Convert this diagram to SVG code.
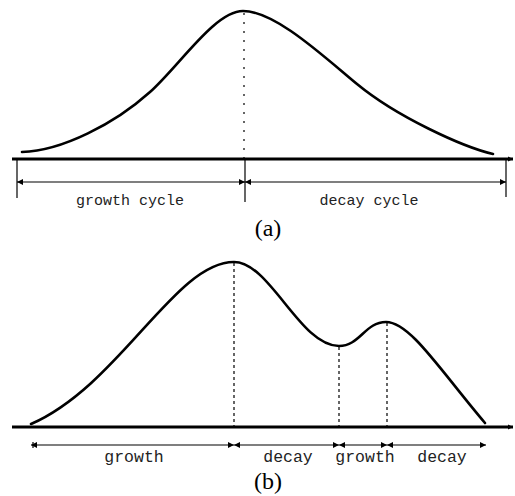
<svg xmlns="http://www.w3.org/2000/svg" width="515" height="496" viewBox="0 0 515 496">
<style>
.curve{fill:none;stroke:#000;stroke-width:2.6;stroke-linejoin:round;stroke-linecap:round}
.base{fill:none;stroke:#000;stroke-width:3}
.dim{fill:none;stroke:#000;stroke-width:1.2}
.tick{fill:none;stroke:#000;stroke-width:1.2}
.dash{fill:none;stroke:#000;stroke-width:1.2;stroke-dasharray:3 3}
.dot{fill:none;stroke:#000;stroke-width:1.2;stroke-dasharray:2 7}
.lbl{font-family:"Liberation Mono","Courier New",monospace;fill:#222;text-anchor:middle}
.cap{font-family:"Liberation Serif","Times New Roman",serif;font-size:24px;fill:#000;text-anchor:middle}
</style>
<defs>
<marker id="ah" viewBox="0 0 10 10" refX="10" refY="5" markerWidth="8" markerHeight="6" markerUnits="userSpaceOnUse" orient="auto-start-reverse">
<path d="M0,0 L10,5 L0,10 z" fill="#000"/>
</marker>
<marker id="bh" viewBox="0 0 10 10" refX="10" refY="5" markerWidth="5" markerHeight="6" markerUnits="userSpaceOnUse" orient="auto">
<path d="M0,0 L10,5 L0,10 z" fill="#000"/>
</marker>
</defs>
<g id="panel-a">
<g id="curve-a">
<path class="curve" d="M22,152 C62,151 115,123.5 150,92 C180,65 215,11 243,11 C275,11 322,55 357,84 C397,117 463,147 493,154"/>
</g>
<g id="connectors-a">
<line class="base" x1="12" y1="159" x2="513" y2="159" marker-end="url(#bh)"/>
<line class="dot" x1="244" y1="13" x2="244" y2="159"/>
<line class="tick" x1="17" y1="159" x2="17" y2="198"/>
<line class="tick" x1="245" y1="159" x2="245" y2="202"/>
<line class="tick" x1="506" y1="159" x2="506" y2="197"/>
<line class="dim" x1="17" y1="182" x2="245" y2="182" marker-start="url(#ah)" marker-end="url(#ah)"/>
<line class="dim" x1="245" y1="182" x2="506" y2="182" marker-start="url(#ah)" marker-end="url(#ah)"/>
</g>
<text class="lbl" x="130" y="205" font-size="15">growth cycle</text>
<text class="lbl" x="369" y="205" font-size="15">decay cycle</text>
<text class="cap" x="268" y="236">(a)</text>
</g>
<g id="panel-b">
<g id="curve-b">
<path class="curve" d="M31,424 C120,385 175,262 234,262 C270,262 300,346 339,346 C360,346 365,322 386,322 C410,322 440,370 485,423"/>
</g>
<g id="connectors-b">
<line class="base" x1="12" y1="427" x2="513" y2="427" marker-end="url(#bh)"/>
<line class="dash" x1="234" y1="263" x2="234" y2="427"/>
<line class="dash" x1="339" y1="347" x2="339" y2="427"/>
<line class="dash" x1="387" y1="323" x2="387" y2="427"/>
<line class="tick" x1="33" y1="442" x2="33" y2="448"/>
<line class="dim" x1="31" y1="445" x2="234" y2="445" marker-start="url(#ah)" marker-end="url(#ah)"/>
<line class="dim" x1="234" y1="445" x2="339" y2="445" marker-start="url(#ah)" marker-end="url(#ah)"/>
<line class="dim" x1="339" y1="445" x2="387" y2="445" marker-start="url(#ah)" marker-end="url(#ah)"/>
<line class="dim" x1="387" y1="445" x2="486" y2="445" marker-start="url(#ah)" marker-end="url(#ah)"/>
</g>
<text class="lbl" x="134" y="462" font-size="16.5">growth</text>
<text class="lbl" x="288" y="462" font-size="16.5">decay</text>
<text class="lbl" x="365" y="462" font-size="16.5">growth</text>
<text class="lbl" x="442" y="462" font-size="16.5">decay</text>
<text class="cap" x="268" y="489">(b)</text>
</g>
</svg>
